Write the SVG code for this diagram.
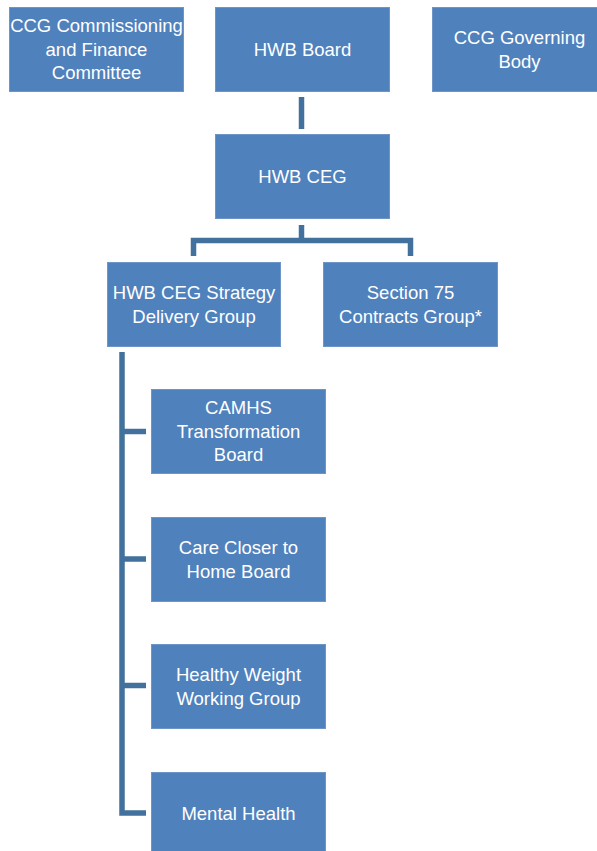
<svg xmlns="http://www.w3.org/2000/svg" width="597" height="851" viewBox="0 0 597 851">
<style>
.box{fill:#4F81BD;stroke:#6E95C8;stroke-width:1}
.t{font-family:"Liberation Sans",Arial,sans-serif;font-size:18.5px;fill:#FFFFFF;text-anchor:middle}
.c{fill:none;stroke:#41719C;stroke-width:5.5;stroke-linejoin:miter;stroke-linecap:butt}
</style>
<rect width="597" height="851" fill="#FFFFFF"/>
<g id="connectors">
<path class="c" d="M301.5 97 V129"/>
<path class="c" d="M301.5 225 V240.5"/>
<path class="c" d="M193.5 256 V240.5 H410.5 V256"/>
<path class="c" d="M122 352 V813 H146"/>
<path class="c" d="M122 431.5 H146"/>
<path class="c" d="M122 559 H146"/>
<path class="c" d="M122 685.5 H146"/>
</g>
<g id="ccg-commissioning">
<rect class="box" x="9.5" y="7.5" width="174" height="84"/>
<text class="t" x="96.5" y="32">CCG Commissioning</text>
<text class="t" x="96.5" y="55.5">and Finance</text>
<text class="t" x="96.5" y="79">Committee</text>
</g>
<g id="hwb-board">
<rect class="box" x="215.5" y="7.5" width="174" height="84"/>
<text class="t" x="302.5" y="56">HWB Board</text>
</g>
<g id="ccg-governing">
<rect class="box" x="432.5" y="7.5" width="174" height="84"/>
<text class="t" x="519.5" y="44">CCG Governing</text>
<text class="t" x="519.5" y="67.5">Body</text>
</g>
<g id="hwb-ceg">
<rect class="box" x="215.5" y="134.5" width="174" height="84"/>
<text class="t" x="302.5" y="183">HWB CEG</text>
</g>
<g id="strategy-delivery">
<rect class="box" x="107.5" y="262.5" width="173" height="84"/>
<text class="t" x="194" y="299">HWB CEG Strategy</text>
<text class="t" x="194" y="322.5">Delivery Group</text>
</g>
<g id="section75">
<rect class="box" x="323.5" y="262.5" width="174" height="84"/>
<text class="t" x="410.5" y="299">Section 75</text>
<text class="t" x="410.5" y="322.5">Contracts Group*</text>
</g>
<g id="camhs">
<rect class="box" x="151.5" y="389.5" width="174" height="84"/>
<text class="t" x="238.5" y="414">CAMHS</text>
<text class="t" x="238.5" y="437.5">Transformation</text>
<text class="t" x="238.5" y="461">Board</text>
</g>
<g id="care-closer">
<rect class="box" x="151.5" y="517.5" width="174" height="84"/>
<text class="t" x="238.5" y="554">Care Closer to</text>
<text class="t" x="238.5" y="577.5">Home Board</text>
</g>
<g id="healthy-weight">
<rect class="box" x="151.5" y="644.5" width="174" height="84"/>
<text class="t" x="238.5" y="681">Healthy Weight</text>
<text class="t" x="238.5" y="704.5">Working Group</text>
</g>
<g id="mental-health">
<rect class="box" x="151.5" y="772.5" width="174" height="84"/>
<text class="t" x="238.5" y="820">Mental Health</text>
</g>
</svg>
